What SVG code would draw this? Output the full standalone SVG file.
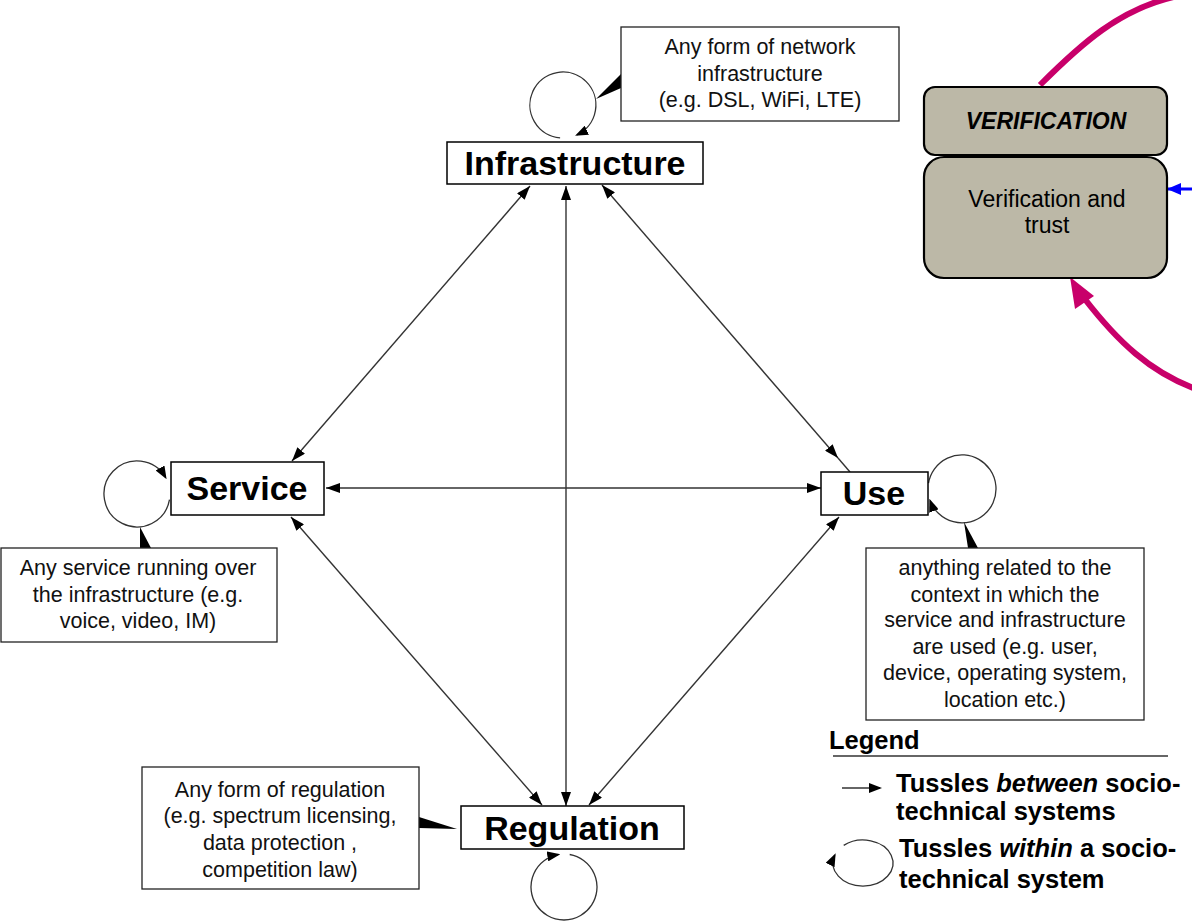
<svg xmlns="http://www.w3.org/2000/svg" width="1192" height="923" viewBox="0 0 1192 923">
  <defs>
    <marker id="arr" viewBox="0 0 14 10" refX="14" refY="5" markerWidth="14" markerHeight="10" markerUnits="userSpaceOnUse" orient="auto-start-reverse">
      <path d="M0,0 L14,5 L0,10 Z" fill="#000"/>
    </marker>
    <marker id="loopArr" viewBox="0 0 13 10" refX="11" refY="5" markerWidth="13" markerHeight="10" markerUnits="userSpaceOnUse" orient="auto">
      <path d="M0,0 L13,5 L0,10 Z" fill="#000"/>
    </marker>
    <marker id="blueArr" viewBox="0 0 14 12" refX="13" refY="6" markerWidth="14" markerHeight="12" markerUnits="userSpaceOnUse" orient="auto">
      <path d="M0,0 L14,6 L0,12 Z" fill="#0000ff"/>
    </marker>
  </defs>
  <style>
    .node { fill: #fff; stroke: #000; stroke-width: 1.5; }
    .label { font-family: "Liberation Sans", Arial, sans-serif; font-weight: bold; font-size: 34px; fill: #000; text-anchor: middle; }
    .note { fill: #fff; stroke: #222; stroke-width: 1.3; }
    .notetext { font-family: "Liberation Sans", Arial, sans-serif; font-size: 21.5px; fill: #111; text-anchor: middle; }
    .wedge { fill: #000; }
    .link { fill: none; stroke: #333; stroke-width: 1.4; }
    .loop { fill: none; stroke: #333; stroke-width: 1.3; }
    .verif { fill: #bcb8a7; stroke: #000; stroke-width: 2.2; }
    .vtext { font-family: "Liberation Sans", Arial, sans-serif; font-size: 23px; fill: #000; text-anchor: middle; }
    .legend { font-family: "Liberation Sans", Arial, sans-serif; font-weight: bold; font-size: 25.5px; fill: #000; }
  </style>

  <rect width="1192" height="923" fill="#fff"/>

  <!-- Connectors between systems -->
  <g id="connectors">
    <path class="link" d="M530,186 L292,461" marker-start="url(#arr)" marker-end="url(#arr)"/>
    <path class="link" d="M566,186 L566,806" marker-start="url(#arr)" marker-end="url(#arr)"/>
    <path class="link" d="M602,185 L838,458" marker-start="url(#arr)" marker-end="url(#arr)"/>
    <path class="link" d="M838,458 L850,472"/>
    <path class="link" d="M326,488 L821,488" marker-start="url(#arr)" marker-end="url(#arr)"/>
    <path class="link" d="M291,517 L542,805" marker-start="url(#arr)" marker-end="url(#arr)"/>
    <path class="link" d="M839,517 L589,805" marker-start="url(#arr)" marker-end="url(#arr)"/>
  </g>

  <!-- Infrastructure -->
  <g id="infrastructure">
    <path class="loop" d="M560.1,137.9 A33,33 0 1 1 576.9,134.9" marker-end="url(#loopArr)"/>
    <rect class="node" x="447" y="142" width="256" height="42"/>
    <text class="label" x="575" y="175">Infrastructure</text>
    <polygon class="wedge" points="596,99 621,74 621,88"/>
    <rect class="note" x="621" y="27" width="278" height="94"/>
    <text class="notetext" x="760" y="54">Any form of network</text>
    <text class="notetext" x="760" y="81">infrastructure</text>
    <text class="notetext" x="760" y="107">(e.g. DSL, WiFi, LTE)</text>
  </g>

  <!-- Service -->
  <g id="service">
    <path class="loop" d="M169.5,499.7 A33,33 0 1 1 165.6,477.5" marker-end="url(#loopArr)"/>
    <rect class="node" x="171" y="462" width="153" height="53"/>
    <text class="label" x="247" y="500">Service</text>
    <polygon class="wedge" points="140,527 140,548 151,548"/>
    <rect class="note" x="1" y="548" width="276" height="94"/>
    <text class="notetext" x="138" y="575">Any service running over</text>
    <text class="notetext" x="138" y="602">the infrastructure (e.g.</text>
    <text class="notetext" x="138" y="628">voice, video, IM)</text>
  </g>

  <!-- Use -->
  <g id="use">
    <path class="loop" d="M928.5,483.1 A34,34 0 1 1 930.1,500.6" marker-end="url(#loopArr)"/>
    <rect class="node" x="821" y="472" width="107" height="43"/>
    <text class="label" x="874" y="505">Use</text>
    <polygon class="wedge" points="964,522 968,548 978,548"/>
    <rect class="note" x="866" y="548" width="278" height="172"/>
    <text class="notetext" x="1005" y="575">anything related to the</text>
    <text class="notetext" x="1005" y="602">context in which the</text>
    <text class="notetext" x="1005" y="627">service and infrastructure</text>
    <text class="notetext" x="1005" y="654">are used (e.g. user,</text>
    <text class="notetext" x="1005" y="680">device, operating system,</text>
    <text class="notetext" x="1005" y="707">location etc.)</text>
  </g>

  <!-- Regulation -->
  <g id="regulation">
    <path class="loop" d="M569.7,854.5 A33,33 0 1 1 558.3,854.5" marker-end="url(#loopArr)"/>
    <rect class="node" x="461" y="806" width="223" height="43"/>
    <text class="label" x="572" y="840">Regulation</text>
    <polygon class="wedge" points="457,829 419,817 419,828"/>
    <rect class="note" x="142" y="767" width="277" height="122"/>
    <text class="notetext" x="280" y="797">Any form of regulation</text>
    <text class="notetext" x="280" y="823">(e.g. spectrum licensing,</text>
    <text class="notetext" x="280" y="850">data protection ,</text>
    <text class="notetext" x="280" y="877">competition law)</text>
  </g>

  <!-- Verification block with its partial links -->
  <g id="verification">
    <path d="M1040,85 C1080,45 1120,8 1178,-4" fill="none" stroke="#c8006a" stroke-width="6"/>
    <path d="M1196,389 C1150,372 1118,342 1084,298" fill="none" stroke="#c8006a" stroke-width="6"/>
    <polygon points="1070,277 1094,296 1075,309" fill="#c8006a"/>
    <path d="M1192,189 L1168,189" fill="none" stroke="#0000ff" stroke-width="3" marker-end="url(#blueArr)"/>
    <rect class="verif" x="924" y="87" width="243" height="68" rx="11"/>
    <text class="vtext" x="1046" y="129" font-weight="bold" font-style="italic" font-size="24">VERIFICATION</text>
    <rect class="verif" x="924" y="157" width="243" height="121" rx="20"/>
    <text class="vtext" x="1047" y="207">Verification and</text>
    <text class="vtext" x="1047" y="233">trust</text>
  </g>

  <!-- Legend -->
  <g id="legend">
    <text class="legend" x="829" y="749" font-size="27">Legend</text>
    <line x1="833" y1="756" x2="1168" y2="756" stroke="#333" stroke-width="1.3"/>
    <path class="link" d="M842,788 L880,788" marker-end="url(#loopArr)"/>
    <text class="legend" x="896" y="792">Tussles <tspan font-style="italic">between</tspan> socio-</text>
    <text class="legend" x="896" y="820">technical systems</text>
    <path class="loop" d="M843.7,845.4 A30,23 0 1 1 834.8,855.1" marker-end="url(#loopArr)"/>
    <text class="legend" x="899" y="857">Tussles <tspan font-style="italic">within</tspan> a socio-</text>
    <text class="legend" x="899" y="888">technical system</text>
  </g>
</svg>
